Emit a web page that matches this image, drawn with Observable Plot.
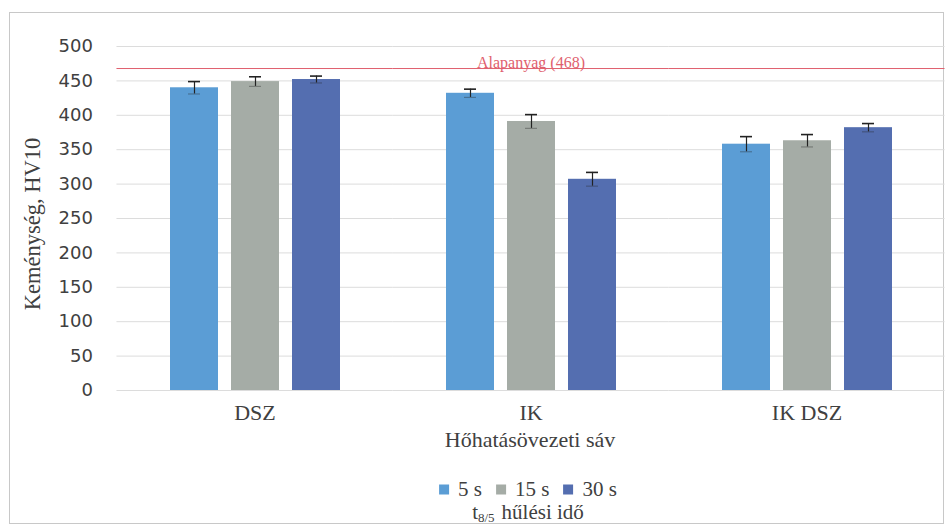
<!DOCTYPE html>
<html>
<head>
<meta charset="utf-8">
<script src="https://cdn.jsdelivr.net/npm/d3@7"></script>
<script src="https://cdn.jsdelivr.net/npm/@observablehq/plot@0.6"></script>
<style>
  html, body { margin: 0; padding: 0; background: #fff; }
  #page { position: relative; width: 946px; height: 526px; overflow: hidden; }
  #frame { position: absolute; left: 9px; top: 12px; width: 933px; height: 510px; border: 1px solid #c8c8c8; }
  #chart { position: absolute; left: 0; top: 0; }
  #ylabel, #xtitle, #legend, #caption {
    position: absolute; font-family: "Liberation Serif", "Times New Roman", serif; color: #404040;
    white-space: nowrap; line-height: 1; font-size: 22px;
  }
  #legend span { font-family: "Liberation Serif", "Times New Roman", serif; }
  #ylabel { left: 33px; top: 224px; transform: translate(-50%, -50%) rotate(-90deg); font-size: 22.5px; }
  #xtitle { left: 530px; top: 440px; transform: translate(-50%, -50%); }
  #legend { left: 528px; top: 489px; transform: translate(-50%, -50%); display: flex; align-items: center; line-height: 17px; font-size: 21px; }
  #legend .item { display: flex; align-items: center; margin: 0 7px; }
  #legend .sw { width: 10px; height: 10px; margin-right: 9px; }
  #caption { left: 528px; top: 512px; transform: translate(-50%, -50%); line-height: 15px; font-size: 21px; }
  #caption sub { font-size: 13px; line-height: 0; vertical-align: -3px; margin-right: 7px; }
</style>
</head>
<body>
<div id="page">
  <div id="frame"></div>
  <div id="chart"></div>
  <div id="ylabel"></div>
  <div id="xtitle"></div>
  <div id="legend"></div>
  <div id="caption"></div>
</div>
<script>
// ---- data ----
const categories = ["DSZ", "IK", "IK DSZ"];
const series = ["5 s", "15 s", "30 s"];
const values5s = [440, 432, 358];
const values15s = [449, 391, 363];
const values30s = [452, 307, 382];
const err5s = [9, 6, 11];
const err15s = [7, 10, 9];
const err30s = [5, 10, 6];
const yTicks = [0, 50, 100, 150, 200, 250, 300, 350, 400, 450, 500];
const baseValue = 468;
const baseLabel = "Alapanyag (468)";
const baseLabelCategory = "IK";
const colors = ["#5b9dd5", "#a5aca6", "#546eb0"];
const yAxisTitle = "Keménység, HV10";
const xAxisTitle = "Hőhatásövezeti sáv";
const legendTitleMain = "t";
const legendTitleSub = "8/5";
const legendTitleRest = "hűlési idő";

const allValues = [values5s, values15s, values30s];
const allErr = [err5s, err15s, err30s];
const data = categories.flatMap((c, i) =>
  series.map((s, j) => ({cat: c, ser: s, v: allValues[j][i], e: allErr[j][i]}))
);

const serif = "Liberation Serif, Times New Roman, serif";

const W = 946, ML = 116, MR = 2;
const fxPad = 0.33;
const fxStep = (W - ML - MR) / categories.length;
const halfGap = fxStep * fxPad / 2; // extend facet-wide rules across facet gaps

const chart = Plot.plot({
  width: W,
  height: 460,
  marginLeft: ML,
  marginRight: MR,
  marginTop: 46,
  marginBottom: 70,
  style: {fontFamily: "DejaVu Sans, sans-serif", fontSize: "18px", color: "#404040", background: "transparent"},
  fx: {domain: categories, paddingInner: fxPad, paddingOuter: fxPad / 2, label: null},
  x: {domain: series, paddingInner: 0.22, paddingOuter: 0.11, axis: null},
  y: {domain: [0, 500], label: null},
  color: {domain: series, range: colors},
  marks: [
    Plot.ruleY(yTicks, {stroke: "#dcdcdc", strokeWidth: 1, insetLeft: -halfGap, insetRight: -halfGap}),
    Plot.barY(data, {fx: "cat", x: "ser", y: "v", fill: "ser"}),
    Plot.ruleX(data, {fx: "cat", x: "ser", y1: d => d.v - d.e, y2: d => d.v + d.e, stroke: "#222", strokeWidth: 1.2}),
    Plot.tickY(data, {fx: "cat", x: "ser", y: d => d.v + d.e, stroke: "#222", strokeWidth: 1.6, insetLeft: 18, insetRight: 18}),
    Plot.tickY(data, {fx: "cat", x: "ser", y: d => d.v - d.e, stroke: "#222", strokeOpacity: 0.35, strokeWidth: 1.2, insetLeft: 18, insetRight: 18}),
    Plot.ruleY([baseValue], {stroke: "#e0606e", strokeWidth: 1, insetLeft: -halfGap, insetRight: -halfGap}),
    Plot.text([{cat: baseLabelCategory, label: baseLabel, y: baseValue}], {fx: "cat", y: "y", text: "label", frameAnchor: "middle", lineAnchor: "bottom", dy: -1, fill: "#e0606e", fontFamily: serif, fontSize: 16}),
    Plot.axisY({ticks: yTicks, tickSize: 0, tickPadding: 24 + halfGap, label: null, fill: "#404040"}),
    Plot.axisFx({anchor: "bottom", tickSize: 0, tickPadding: 14, label: null, fontFamily: serif, fontSize: 22, fill: "#404040"})
  ]
});
document.getElementById("chart").appendChild(chart);

document.getElementById("ylabel").textContent = yAxisTitle;
document.getElementById("xtitle").textContent = xAxisTitle;

const legend = document.getElementById("legend");
series.forEach((s, i) => {
  const item = document.createElement("span");
  item.className = "item";
  const sw = document.createElement("span");
  sw.className = "sw";
  sw.style.background = colors[i];
  const t = document.createElement("span");
  t.textContent = s;
  item.appendChild(sw);
  item.appendChild(t);
  legend.appendChild(item);
});

const cap = document.getElementById("caption");
cap.appendChild(document.createTextNode(legendTitleMain));
const sub = document.createElement("sub");
sub.textContent = legendTitleSub;
cap.appendChild(sub);
cap.appendChild(document.createTextNode(legendTitleRest));
</script>
</body>
</html>
